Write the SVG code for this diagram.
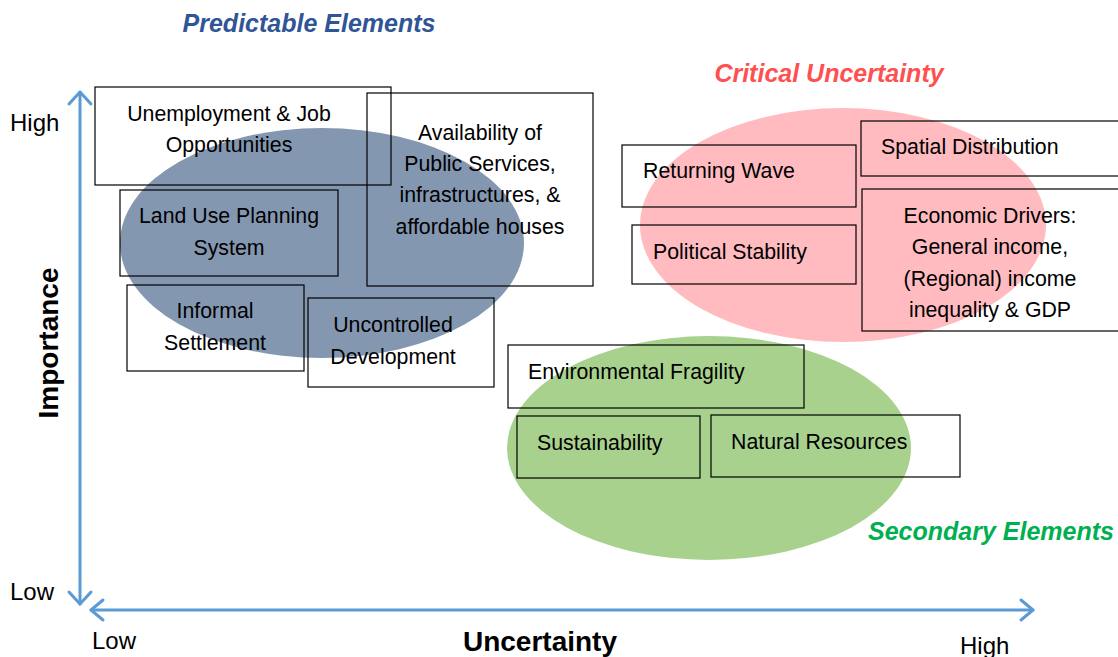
<svg xmlns="http://www.w3.org/2000/svg" width="1118" height="657" viewBox="0 0 1118 657">
<style>
.box{fill:none;stroke:#000;stroke-width:1.2}
.t{font-family:"Liberation Sans",Arial,sans-serif;font-size:21.3px;fill:#000}
.c{text-anchor:middle}
.ax{stroke:#5b9bd5;stroke-width:3;fill:none;stroke-linecap:round;stroke-linejoin:round}
.title{font-family:"Liberation Sans",Arial,sans-serif;font-size:25px;font-weight:bold;font-style:italic}
.lbl{font-family:"Liberation Sans",Arial,sans-serif;font-size:24px;fill:#000}
.axt{font-family:"Liberation Sans",Arial,sans-serif;font-size:28px;font-weight:bold;fill:#000}
</style>
<rect width="1118" height="657" fill="#fff"/>
<g id="ellipses">
<ellipse id="predictable-area" cx="322" cy="243" rx="202" ry="115" fill="#8497b0"/>
<ellipse id="critical-area" cx="843" cy="225" rx="203" ry="117" fill="#ffbbbf"/>
<ellipse id="secondary-area" cx="709" cy="448" rx="202" ry="112" fill="#a9d18e"/>
</g>
<g id="connectors">
<path class="ax" d="M80,92 L80,604"/>
<path class="ax" d="M69,104 L80,92 L91,104"/>
<path class="ax" d="M69,592 L80,604 L91,592"/>
<path class="ax" d="M91,610 L1033,610"/>
<path class="ax" d="M103,600 L91,610 L103,620"/>
<path class="ax" d="M1021,600 L1033,610 L1021,620"/>
</g>
<g id="axis-labels">
<text class="lbl" x="10" y="131">High</text>
<text class="lbl" x="10" y="600">Low</text>
<text class="lbl" x="92" y="649">Low</text>
<text class="lbl" x="960" y="654">High</text>
<text class="axt" text-anchor="middle" transform="translate(58,343) rotate(-90)">Importance</text>
<text class="axt" x="540" y="651" text-anchor="middle">Uncertainty</text>
</g>
<g id="titles">
<text class="title" x="309" y="32" text-anchor="middle" fill="#2f5597">Predictable Elements</text>
<text class="title" x="829" y="82" text-anchor="middle" fill="#ff5050">Critical Uncertainty</text>
<text class="title" x="991" y="540" text-anchor="middle" fill="#00b050">Secondary Elements</text>
</g>
<g id="node-unemployment">
<rect class="box" x="95" y="87" width="296" height="98"/>
<text class="t c" x="229" y="121">Unemployment &amp; Job</text>
<text class="t c" x="229" y="152">Opportunities</text>
</g>
<g id="node-public-services">
<rect class="box" x="367" y="93" width="226" height="193"/>
<text class="t c" x="480" y="140">Availability of</text>
<text class="t c" x="480" y="171">Public Services,</text>
<text class="t c" x="480" y="202">infrastructures, &amp;</text>
<text class="t c" x="480" y="234">affordable houses</text>
</g>
<g id="node-land-use">
<rect class="box" x="120" y="190" width="218" height="86"/>
<text class="t c" x="229" y="223">Land Use Planning</text>
<text class="t c" x="229" y="255">System</text>
</g>
<g id="node-informal">
<rect class="box" x="127" y="285" width="177" height="86"/>
<text class="t c" x="215" y="318">Informal</text>
<text class="t c" x="215" y="350">Settlement</text>
</g>
<g id="node-uncontrolled">
<rect class="box" x="308" y="298" width="186" height="89"/>
<text class="t c" x="393" y="332">Uncontrolled</text>
<text class="t c" x="393" y="364">Development</text>
</g>
<g id="node-returning-wave">
<rect class="box" x="622" y="145" width="234" height="62"/>
<text class="t" x="643" y="178">Returning Wave</text>
</g>
<g id="node-political">
<rect class="box" x="632" y="225" width="224" height="59"/>
<text class="t" x="653" y="259">Political Stability</text>
</g>
<g id="node-spatial">
<rect class="box" x="861" y="121" width="262" height="55"/>
<text class="t" x="881" y="154">Spatial Distribution</text>
</g>
<g id="node-economic">
<rect class="box" x="862" y="189" width="262" height="142"/>
<text class="t c" x="990" y="223">Economic Drivers:</text>
<text class="t c" x="990" y="254">General income,</text>
<text class="t c" x="990" y="286">(Regional) income</text>
<text class="t c" x="990" y="317">inequality &amp; GDP</text>
</g>
<g id="node-environmental">
<rect class="box" x="508" y="345" width="296" height="63"/>
<text class="t" x="528" y="379">Environmental Fragility</text>
</g>
<g id="node-sustainability">
<rect class="box" x="517" y="416" width="183" height="62"/>
<text class="t" x="537" y="450">Sustainability</text>
</g>
<g id="node-natural">
<rect class="box" x="711" y="415" width="249" height="62"/>
<text class="t" x="731" y="449">Natural Resources</text>
</g>
</svg>
